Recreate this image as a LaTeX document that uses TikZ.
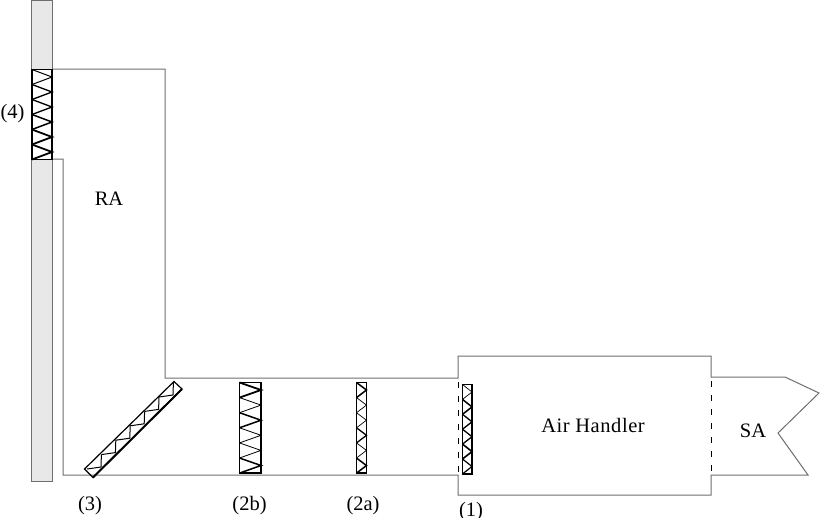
\documentclass[tikz,border=0pt]{standalone}
\usepackage{fontspec}
\setmainfont{Liberation Serif}
\definecolor{ductgray}{RGB}{110,110,110}
\definecolor{wallgray}{RGB}{232,232,232}
\begin{document}
\begin{tikzpicture}[x=1pt,y=-1pt,
    duct/.style={draw=ductgray,line width=1pt},
    wall/.style={draw=ductgray,line width=1pt,fill=wallgray},
    filterbox/.style={draw=black,line width=1.2pt},
    zigzag/.style={draw=black,line width=1pt,line join=miter},
    opening/.style={draw=black,line width=0.8pt,dash pattern=on 6pt off 8pt},
    label/.style={inner sep=0pt,font=\fontsize{20.5}{20.5}\selectfont}]
  \useasboundingbox (0,0) rectangle (820,523);
  \draw[wall] (31.5,0.5) rectangle (52,481.5);
  \draw[duct] (52,69) -- (165,69) -- (165,378) -- (458,378) -- (458,356) -- (711,356)
    -- (711,377) -- (785,377) -- (819,393) -- (778,433) -- (808,475) -- (711,475)
    -- (711,495) -- (458,495) -- (458,475) -- (63,475) -- (63,159) -- (52,159);
  \draw[opening] (458,382) -- (458,475);
  \draw[opening] (711,381) -- (711,475);
  % filter 4
  \draw[filterbox,fill=white] (32,69.5) rectangle (52,159.5);
  \foreach \k/\w in {0/1,1/1.3,2/1.3,3/1.5,4/1.8,5/1.8}
    \draw[zigzag,line width=\w pt] (32,69.5+\k*15) -- (52,77+\k*15) -- (32,84.5+\k*15);
  % filter 3
  \draw[filterbox] (84.5,469) -- (93,477.5) -- (182,389) -- (174,381.5) -- cycle;
  \draw[filterbox,line width=2pt] (93,477.5) -- (182,389);
  \foreach \k in {0,...,5}
    \draw[zigzag] (87+\k*14.4+14.4,469-\k*14.4-14.4) -- (87+\k*14.4+14,469-\k*14.4-2) -- (87+\k*14.4,469-\k*14.4);
  % filter 2b
  \draw[filterbox] (239.5,382.5) rectangle (261,473);
  \foreach \k/\w in {0/1.8,1/0.8,2/1.5,3/0.8,4/0.8,5/1.5}
    \draw[zigzag,line width=\w pt] (239.5,382.5+\k*15.1) -- (261,390+\k*15.1) -- (239.5,397.6+\k*15.1);
  % filter 2a
  \draw[filterbox] (356.5,382.5) rectangle (366.5,473);
  \foreach \k/\w in {0/1.5,1/0.7,2/0.7,3/1.3,4/0.7,5/1.5}
    \draw[zigzag,line width=\w pt] (356.5,382.5+\k*15.1) -- (366.5,390+\k*15.1) -- (356.5,397.6+\k*15.1);
  % filter 1
  \draw[filterbox] (462.5,384.5) rectangle (472,474);
  \foreach \k/\w in {0/0.7,1/1.5,2/1.3,3/1.3,4/1.6,5/1.2}
    \draw[zigzag,line width=\w pt] (462.5,384.5+\k*14.9) -- (472,392+\k*14.9) -- (462.5,399.4+\k*14.9);
  \node[label] (labelfour) at (12.5,113.5) {(4)};
  \node[label] (labelra) at (109,199) {RA};
  \node[label] (labelthree) at (90,506) {(3)};
  \node[label] (labeltwob) at (249.5,506) {(2b)};
  \node[label] (labeltwoa) at (363,506) {(2a)};
  \begin{scope}
    \clip (440,490) rectangle (500,517);
    \node[label] (labelone) at (471,512) {(1)};
  \end{scope}
  \node[label] (labelair) at (593,425) {\addfontfeature{LetterSpace=2.7}Air Handler};
  \node[label] (labelsa) at (753,431) {SA};
\end{tikzpicture}
\end{document}
